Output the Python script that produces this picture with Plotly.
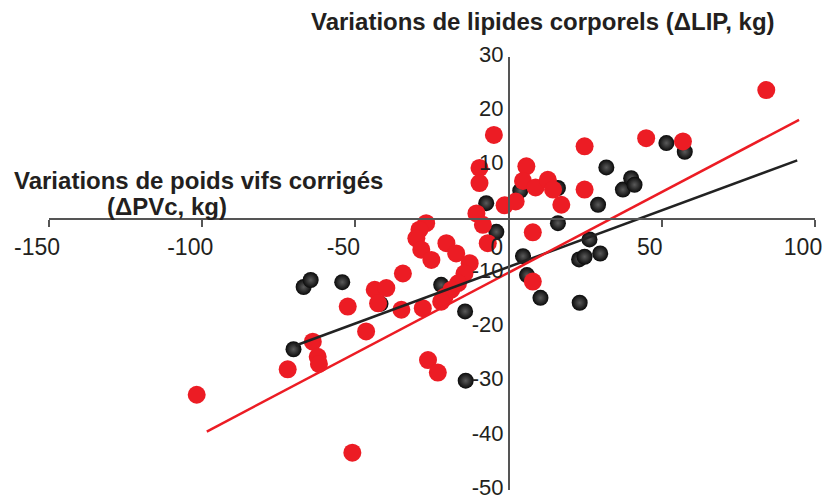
import plotly.graph_objects as go

# ---- data ----
black_x = [-66.9, -64.6, -54.3, -70.2, -41.8, -22.0, -14.2, -14.0, -7.3, -4.0,
           3.8, 4.7, 6.0, 10.4, 16.1, 16.1, 23.0, 24.8, 23.2, 26.4,
           29.9, 29.2, 31.9, 37.3, 40.0, 41.1, 51.5, 57.5]
black_y = [-12.5, -11.2, -11.6, -24.0, -15.6, -12.1, -17.0, -29.8, 3.0, -2.3,
           5.3, -6.8, -10.3, -14.5, 5.8, -0.7, -7.4, -6.9, -15.4, -3.7,
           -6.3, 2.7, 9.6, 5.5, 7.6, 6.4, 14.1, 12.5]

red_x = [-101.8, -72.1, -63.9, -62.3, -61.9, -52.5, -51.0, -46.5, -43.7, -39.9,
         -42.6, -34.5, -35.0, -28.0, -26.9, -29.1, -30.1, -28.5, -25.2, -20.3,
         -17.1, -12.7, -14.4, -16.5, -18.7, -20.9, -22.0, -26.3, -23.1, -10.5,
         -8.4, -6.8, -9.5, -9.5, -4.8, -1.3, 2.3, 5.8, 4.7, 8.8,
         12.8, 14.5, 17.2, 7.9, 7.9, 24.8, 24.8, 44.9, 56.9, 84.1]
red_y = [-32.4, -27.7, -22.6, -25.4, -26.7, -16.1, -43.1, -20.7, -13.0, -12.7,
         -15.5, -10.0, -16.7, -16.4, -0.7, -1.9, -3.5, -5.6, -7.5, -4.4,
         -6.3, -8.1, -10.0, -11.8, -13.0, -14.3, -15.2, -26.0, -28.3, 1.1,
         -1.0, -4.4, 9.5, 6.7, 15.6, 2.6, 3.3, 9.8, 7.1, 5.9,
         7.3, 5.5, 2.7, -2.4, -11.5, 13.5, 5.5, 15.0, 14.4, 23.9]

# regression lines (end points)
black_fit_x = [-69.5, 94.2]
black_fit_y = [-23.3, 10.9]
red_fit_x = [-98.5, 94.8]
red_fit_y = [-39.2, 18.4]

x_tickvals = [-150, -100, -50, 0, 50, 100]
x_ticktext = ["-150", "-100", "-50", "0", "50", "100"]
y_tickvals = [30, 20, 10, -10, -20, -30, -40, -50]
y_ticktext = ["30", "20", "10", "-10", "-20", "-30", "-40", "-50"]

title_top = "Variations de lipides corporels (ΔLIP, kg)"
title_x1 = "Variations de poids vifs corrigés"
title_x2 = "(ΔPVc, kg)"

RED = "#ec1c24"
INK = "#231f20"
FONT = "Liberation Sans, Arial, sans-serif"

fig = go.Figure()

fig.add_trace(go.Scatter(
    x=black_x, y=black_y, mode="markers",
    marker=dict(size=16, color="#0a0a0a",
                gradient=dict(type="radial", color="#5a5a5a"),
                line=dict(width=0)),
    showlegend=False))

fig.add_trace(go.Scatter(
    x=red_x, y=red_y, mode="markers",
    marker=dict(size=18, color=RED, line=dict(width=0)),
    showlegend=False))

fig.add_trace(go.Scatter(
    x=black_fit_x, y=black_fit_y, mode="lines",
    line=dict(color="#222222", width=2.5), showlegend=False))
fig.add_trace(go.Scatter(
    x=red_fit_x, y=red_fit_y, mode="lines",
    line=dict(color=RED, width=2.5), showlegend=False))

fig.update_layout(
    width=827, height=500,
    margin=dict(l=49, r=12, t=57, b=10),
    paper_bgcolor="white", plot_bgcolor="white",
    font=dict(family=FONT, size=23, color=INK),
    xaxis=dict(range=[-150, 100], anchor="free", position=0.625,
               automargin=False, ticklabeloverflow="allow",
               ticklabelshift=-12,
               showline=True, linecolor="#555555", linewidth=1.5,
               ticks="outside", ticklen=7, tickwidth=1.5, tickcolor="#555555",
               tickvals=x_tickvals, ticktext=x_ticktext,
               showgrid=False, zeroline=False,
               tickfont=dict(size=23, color=INK)),
    yaxis=dict(range=[-50, 30], anchor="free", position=0.6,
               automargin=False, ticklabeloverflow="allow",
               ticklabelshift=-3,
               showline=True, linecolor="#555555", linewidth=1.5,
               ticks="", tickvals=y_tickvals, ticktext=y_ticktext,
               showgrid=False, zeroline=False,
               tickfont=dict(size=22, color=INK)),
    annotations=[
        dict(text="<b>" + title_top + "</b>", xref="paper", yref="paper",
             x=0.645, y=1.083, xanchor="center", yanchor="middle",
             showarrow=False, font=dict(size=24, color=INK)),
        dict(text="<b>" + title_x1 + "</b>", xref="paper", yref="paper",
             x=-0.0483, y=0.714, xanchor="left", yanchor="middle",
             showarrow=False, font=dict(size=24, color=INK)),
        dict(text="<b>" + title_x2 + "</b>", xref="paper", yref="paper",
             x=0.0731, y=0.655, xanchor="left", yanchor="middle",
             showarrow=False, font=dict(size=24, color=INK)),
    ],
)

fig.write_html("out.html", config={"displayModeBar": False},
               post_script="document.body.style.margin='0';")
